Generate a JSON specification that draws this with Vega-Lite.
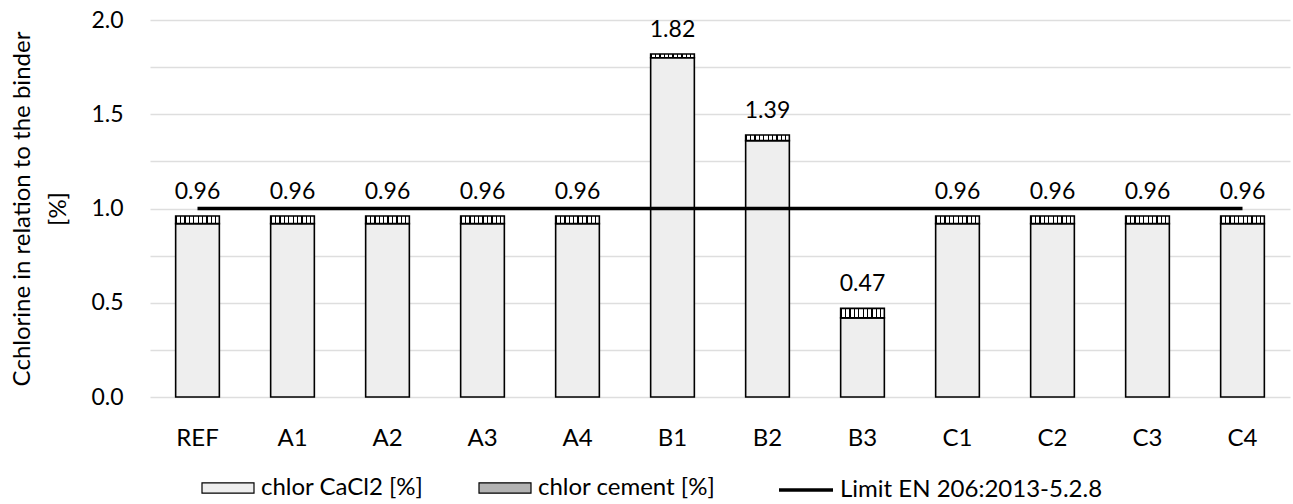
{
  "$schema": "https://vega.github.io/schema/vega-lite/v6.json",
  "autosize": "none",
  "width": 1140,
  "height": 377,
  "padding": {"left": 150, "top": 20, "right": 3, "bottom": 107},
  "background": "white",
  "config": {
    "font": "Lato",
    "view": {"stroke": null},
    "axis": {"labelFont": "Lato", "titleFont": "Lato", "labelColor": "#000", "titleColor": "#000"}
  },
  "datasets": {
    "bars": [
      {"category": "REF", "series": "chlor CaCl2 [%]", "ord": 1, "value": 0.92},
      {"category": "REF", "series": "chlor cement [%]", "ord": 2, "value": 0.04},
      {"category": "A1", "series": "chlor CaCl2 [%]", "ord": 1, "value": 0.92},
      {"category": "A1", "series": "chlor cement [%]", "ord": 2, "value": 0.04},
      {"category": "A2", "series": "chlor CaCl2 [%]", "ord": 1, "value": 0.92},
      {"category": "A2", "series": "chlor cement [%]", "ord": 2, "value": 0.04},
      {"category": "A3", "series": "chlor CaCl2 [%]", "ord": 1, "value": 0.92},
      {"category": "A3", "series": "chlor cement [%]", "ord": 2, "value": 0.04},
      {"category": "A4", "series": "chlor CaCl2 [%]", "ord": 1, "value": 0.92},
      {"category": "A4", "series": "chlor cement [%]", "ord": 2, "value": 0.04},
      {"category": "B1", "series": "chlor CaCl2 [%]", "ord": 1, "value": 1.80},
      {"category": "B1", "series": "chlor cement [%]", "ord": 2, "value": 0.02},
      {"category": "B2", "series": "chlor CaCl2 [%]", "ord": 1, "value": 1.36},
      {"category": "B2", "series": "chlor cement [%]", "ord": 2, "value": 0.03},
      {"category": "B3", "series": "chlor CaCl2 [%]", "ord": 1, "value": 0.42},
      {"category": "B3", "series": "chlor cement [%]", "ord": 2, "value": 0.05},
      {"category": "C1", "series": "chlor CaCl2 [%]", "ord": 1, "value": 0.92},
      {"category": "C1", "series": "chlor cement [%]", "ord": 2, "value": 0.04},
      {"category": "C2", "series": "chlor CaCl2 [%]", "ord": 1, "value": 0.92},
      {"category": "C2", "series": "chlor cement [%]", "ord": 2, "value": 0.04},
      {"category": "C3", "series": "chlor CaCl2 [%]", "ord": 1, "value": 0.92},
      {"category": "C3", "series": "chlor cement [%]", "ord": 2, "value": 0.04},
      {"category": "C4", "series": "chlor CaCl2 [%]", "ord": 1, "value": 0.92},
      {"category": "C4", "series": "chlor cement [%]", "ord": 2, "value": 0.04}
    ],
    "limit": [
      {"category": "REF", "series": "Limit EN 206:2013-5.2.8", "limit": 1.0},
      {"category": "A1", "series": "Limit EN 206:2013-5.2.8", "limit": 1.0},
      {"category": "A2", "series": "Limit EN 206:2013-5.2.8", "limit": 1.0},
      {"category": "A3", "series": "Limit EN 206:2013-5.2.8", "limit": 1.0},
      {"category": "A4", "series": "Limit EN 206:2013-5.2.8", "limit": 1.0},
      {"category": "B1", "series": "Limit EN 206:2013-5.2.8", "limit": 1.0},
      {"category": "B2", "series": "Limit EN 206:2013-5.2.8", "limit": 1.0},
      {"category": "B3", "series": "Limit EN 206:2013-5.2.8", "limit": 1.0},
      {"category": "C1", "series": "Limit EN 206:2013-5.2.8", "limit": 1.0},
      {"category": "C2", "series": "Limit EN 206:2013-5.2.8", "limit": 1.0},
      {"category": "C3", "series": "Limit EN 206:2013-5.2.8", "limit": 1.0},
      {"category": "C4", "series": "Limit EN 206:2013-5.2.8", "limit": 1.0}
    ]
  },
  "layer": [
    {
      "data": {"name": "bars"},
      "mark": {"type": "bar", "stroke": "#000", "strokeWidth": 1.6},
      "encoding": {
        "x": {
          "field": "category", "type": "nominal", "sort": null,
          "scale": {"paddingInner": 0.54, "paddingOuter": 0.27},
          "axis": {"title": null, "labelAngle": 0, "ticks": false, "domain": false, "labelPadding": 29, "labelFontSize": 24}
        },
        "y": {
          "field": "value", "type": "quantitative", "stack": "zero",
          "scale": {"domain": [0, 2], "nice": false},
          "axis": {
            "values": [0, 0.25, 0.5, 0.75, 1, 1.25, 1.5, 1.75, 2],
            "labelExpr": "(datum.value * 2) % 1 === 0 ? format(datum.value, '.1f') : ''",
            "ticks": false, "domain": false, "gridColor": "#dedede", "gridWidth": 1.3,
            "labelPadding": 27, "labelFontSize": 23,
            "title": ["Cchlorine in relation to the binder", "[%]"],
            "titleFontSize": 24, "titleFontWeight": "normal", "titleLineHeight": 36, "titlePadding": 20
          }
        },
        "fill": {
          "condition": {
            "test": "datum.series === 'chlor cement [%]'",
            "value": {
              "gradient": "linear", "x1": 0, "y1": 0, "x2": 1, "y2": 0,
              "stops": [
                {"offset": 0.0, "color": "#000"}, {"offset": 0.03, "color": "#000"}, {"offset": 0.03, "color": "#fff"}, {"offset": 0.1, "color": "#fff"},
                {"offset": 0.1, "color": "#000"}, {"offset": 0.13, "color": "#000"}, {"offset": 0.13, "color": "#fff"}, {"offset": 0.2, "color": "#fff"},
                {"offset": 0.2, "color": "#000"}, {"offset": 0.23, "color": "#000"}, {"offset": 0.23, "color": "#fff"}, {"offset": 0.3, "color": "#fff"},
                {"offset": 0.3, "color": "#000"}, {"offset": 0.33, "color": "#000"}, {"offset": 0.33, "color": "#fff"}, {"offset": 0.4, "color": "#fff"},
                {"offset": 0.4, "color": "#000"}, {"offset": 0.43, "color": "#000"}, {"offset": 0.43, "color": "#fff"}, {"offset": 0.5, "color": "#fff"},
                {"offset": 0.5, "color": "#000"}, {"offset": 0.53, "color": "#000"}, {"offset": 0.53, "color": "#fff"}, {"offset": 0.6, "color": "#fff"},
                {"offset": 0.6, "color": "#000"}, {"offset": 0.63, "color": "#000"}, {"offset": 0.63, "color": "#fff"}, {"offset": 0.7, "color": "#fff"},
                {"offset": 0.7, "color": "#000"}, {"offset": 0.73, "color": "#000"}, {"offset": 0.73, "color": "#fff"}, {"offset": 0.8, "color": "#fff"},
                {"offset": 0.8, "color": "#000"}, {"offset": 0.83, "color": "#000"}, {"offset": 0.83, "color": "#fff"}, {"offset": 0.9, "color": "#fff"},
                {"offset": 0.9, "color": "#000"}, {"offset": 0.93, "color": "#000"}, {"offset": 0.93, "color": "#fff"}, {"offset": 1.0, "color": "#fff"}
              ]
            }
          },
          "field": "series", "type": "nominal",
          "scale": {"domain": ["chlor CaCl2 [%]", "chlor cement [%]"], "range": ["#eeeeee", "#b3b3b3"]},
          "legend": {
            "title": null, "orient": "none", "legendX": 51, "legendY": 441, "direction": "horizontal", "columns": 2,
            "symbolType": "M-1,-0.2H1V0.2H-1Z", "symbolSize": 2704, "symbolStrokeColor": "#000", "symbolStrokeWidth": 1.2,
            "labelFontSize": 24, "labelFont": "Lato", "labelColor": "#000", "labelOffset": 6, "labelLimit": 400, "columnPadding": 52,
            "encode": {
              "symbols": {
                "update": {
                  "stroke": {"value": "#000"},
                  "strokeWidth": {"value": 1.2},
                  "fill": {"signal": "datum.value === 'chlor cement [%]' ? {'gradient': 'linear', 'x1': 0, 'y1': 0, 'x2': 1, 'y2': 0, 'stops': [{'offset': 0, 'color': '#000'}, {'offset': 0.03, 'color': '#000'}, {'offset': 0.03, 'color': '#fff'}, {'offset': 0.1, 'color': '#fff'}, {'offset': 0.1, 'color': '#000'}, {'offset': 0.13, 'color': '#000'}, {'offset': 0.13, 'color': '#fff'}, {'offset': 0.2, 'color': '#fff'}, {'offset': 0.2, 'color': '#000'}, {'offset': 0.23, 'color': '#000'}, {'offset': 0.23, 'color': '#fff'}, {'offset': 0.3, 'color': '#fff'}, {'offset': 0.3, 'color': '#000'}, {'offset': 0.33, 'color': '#000'}, {'offset': 0.33, 'color': '#fff'}, {'offset': 0.4, 'color': '#fff'}, {'offset': 0.4, 'color': '#000'}, {'offset': 0.43, 'color': '#000'}, {'offset': 0.43, 'color': '#fff'}, {'offset': 0.5, 'color': '#fff'}, {'offset': 0.5, 'color': '#000'}, {'offset': 0.53, 'color': '#000'}, {'offset': 0.53, 'color': '#fff'}, {'offset': 0.6, 'color': '#fff'}, {'offset': 0.6, 'color': '#000'}, {'offset': 0.63, 'color': '#000'}, {'offset': 0.63, 'color': '#fff'}, {'offset': 0.7, 'color': '#fff'}, {'offset': 0.7, 'color': '#000'}, {'offset': 0.73, 'color': '#000'}, {'offset': 0.73, 'color': '#fff'}, {'offset': 0.8, 'color': '#fff'}, {'offset': 0.8, 'color': '#000'}, {'offset': 0.83, 'color': '#000'}, {'offset': 0.83, 'color': '#fff'}, {'offset': 0.9, 'color': '#fff'}, {'offset': 0.9, 'color': '#000'}, {'offset': 0.93, 'color': '#000'}, {'offset': 0.93, 'color': '#fff'}, {'offset': 1, 'color': '#fff'}]} : '#eeeeee'"}
                }
              }
            }
          }
        },
        "order": {"field": "ord", "type": "quantitative"}
      }
    },
    {
      "data": {"name": "limit"},
      "mark": {"type": "line", "strokeWidth": 3.5},
      "encoding": {
        "x": {"field": "category", "type": "nominal", "sort": null},
        "y": {"field": "limit", "type": "quantitative"},
        "stroke": {
          "field": "series", "type": "nominal",
          "scale": {"domain": ["Limit EN 206:2013-5.2.8"], "range": ["#000"]},
          "legend": {
            "title": null, "orient": "none", "legendX": 627, "legendY": 441,
            "symbolType": "stroke", "symbolSize": 2916, "symbolStrokeWidth": 3.5,
            "labelFontSize": 24, "labelFont": "Lato", "labelColor": "#000", "labelOffset": 5, "labelLimit": 400
          }
        }
      }
    },
    {
      "data": {"name": "bars"},
      "mark": {"type": "text", "baseline": "alphabetic", "dy": -17, "fontSize": 23, "font": "Lato", "color": "#000"},
      "encoding": {
        "x": {"field": "category", "type": "nominal", "sort": null},
        "y": {"aggregate": "sum", "field": "value", "type": "quantitative"},
        "text": {"aggregate": "sum", "field": "value", "type": "quantitative", "format": ".2f"}
      }
    }
  ]
}
